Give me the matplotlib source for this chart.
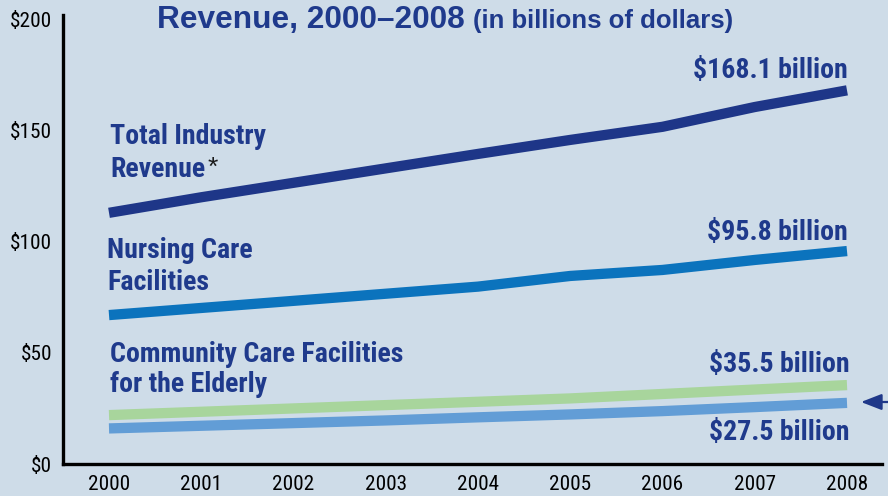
import matplotlib
matplotlib.use("Agg")
import matplotlib.pyplot as plt
from matplotlib import font_manager as fm

years = [2000, 2001, 2002, 2003, 2004, 2005, 2006, 2007, 2008]
total_industry = [113, 120, 126.5, 133, 139.5, 145.8, 151.7, 160.6, 168.1]
nursing_care = [67, 70.2, 73.4, 76.6, 79.8, 84.6, 87.3, 91.8, 95.8]
community_elderly = [22, 23.5, 25, 26.5, 28, 29.5, 31.5, 33.5, 35.5]
other_series = [16, 17.2, 18.4, 19.6, 21, 22.3, 23.8, 25.6, 27.5]
y_ticks = [0, 50, 100, 150, 200]
y_tick_labels = ["$0", "$50", "$100", "$150", "$200"]
end_labels = ["$168.1 billion", "$95.8 billion", "$35.5 billion", "$27.5 billion"]

BG = "#cedce8"
NAVY = "#1f3889"
TEXT = "#1f3a8c"
C_TOTAL = "#1e3688"
C_NURS = "#0b73bd"
C_GREEN = "#a8d59c"
C_LBLUE = "#629dd6"

PREF = ["Liberation Sans Narrow", "Roboto Condensed", "Arimo Narrow", "Fira Sans Condensed",
        "IBM Plex Sans Condensed", "Encode Sans Condensed"]


def pick(weight):
    for fam in PREF:
        for f in fm.fontManager.ttflist:
            if f.name == fam and f.weight == weight and f.style == 'normal':
                return fm.FontProperties(fname=f.fname)
    return None


fp_bold = pick(700)
fp_reg = pick(400)
if fp_reg is None:
    fp_reg = fm.FontProperties(family=['Liberation Sans', 'DejaVu Sans'])
if fp_bold is None:
    fp_bold = fm.FontProperties(family=['Liberation Sans', 'DejaVu Sans'], weight='bold')
plt.rcParams['font.family'] = ['Liberation Sans', 'DejaVu Sans']

fig = plt.figure(figsize=(8.88, 4.96), dpi=100, facecolor=BG)
ax = fig.add_axes([63/888, 1-464/496, (882-63)/888, 449/496])
ax.set_facecolor(BG)
renderer = fig.canvas.get_renderer()


def width_px(s, fp, size):
    t = fig.text(0, 0, s, fontproperties=fp, fontsize=size)
    w = t.get_window_extent(renderer).width
    t.remove()
    return w


def fit(s, fp, target, base=18):
    return base * target / width_px(s, fp, base)


lab_size = (fit("Total Industry", fp_bold, 157) + fit("$168.1 billion", fp_bold, 154)) / 2
tick_size = fit("2000", fp_reg, 42)
title_bold = fm.FontProperties(family=['Liberation Sans', 'DejaVu Sans'], weight='bold')
title_size = fit("Revenue, 2000\u20132008", title_bold, 308)
sub_size = fit("(in billions of dollars)", title_bold, 260)

lw = 7.4
ax.plot(years, other_series, color=C_LBLUE, lw=lw, solid_capstyle='butt', solid_joinstyle='round')
ax.plot(years, community_elderly, color=C_GREEN, lw=lw, solid_capstyle='butt', solid_joinstyle='round')
ax.plot(years, nursing_care, color=C_NURS, lw=lw, solid_capstyle='butt', solid_joinstyle='round')
ax.plot(years, total_industry, color=C_TOTAL, lw=lw, solid_capstyle='butt', solid_joinstyle='round')

ax.set_xlim(2000 - 46/92.25, 2008 + 35/92.25)
ax.set_ylim(0, 202)
ax.set_xticks(years)
ax.set_xticklabels([str(y) for y in years], color='black')
ax.set_yticks(y_ticks)
ax.set_yticklabels(y_tick_labels, color='black')
for lab in ax.get_xticklabels() + ax.get_yticklabels():
    lab.set_fontproperties(fp_reg)
    lab.set_fontsize(tick_size)
ax.tick_params(axis='x', length=0, pad=8)
ax.tick_params(axis='y', length=0, pad=8)
for s in ['top', 'right']:
    ax.spines[s].set_visible(False)
for s in ['left', 'bottom']:
    ax.spines[s].set_linewidth(2.4)
    ax.spines[s].set_color('black')

lab_kw = dict(fontproperties=fp_bold, fontsize=lab_size, color=TEXT, va='baseline')

ax.text(2000.01, 144.0, "Total Industry", ha='left', **lab_kw)
rev = ax.text(2000.01, 129.1, "Revenue", ha='left', **lab_kw)
ax.annotate("*", xy=(1, 0), xycoords=rev, xytext=(2, 2), textcoords='offset points',
            fontsize=19, color='#1a1a1a', ha='left', va='bottom')
ax.text(1999.98, 92.7, "Nursing Care", ha='left', **lab_kw)
ax.text(1999.98, 78.3, "Facilities", ha='left', **lab_kw)
ax.text(2000.01, 45.9, "Community Care Facilities", ha='left', **lab_kw)
ax.text(2000.01, 32.4, "for the Elderly", ha='left', **lab_kw)

ax.text(2008.01, 173.7, end_labels[0], ha='right', **lab_kw)
ax.text(2008.01, 100.8, end_labels[1], ha='right', **lab_kw)
ax.text(2008.03, 41.4, end_labels[2], ha='right', **lab_kw)
ax.text(2008.03, 10.8, end_labels[3], ha='right', **lab_kw)

fig.text(157/888, 1-28/496, "Revenue, 2000\u20132008", fontproperties=title_bold, fontsize=title_size,
         color=TEXT, ha='left', va='baseline')
fig.text(473/888, 1-28/496, "(in billions of dollars)", fontproperties=title_bold, fontsize=sub_size,
         color=TEXT, ha='left', va='baseline')

ax.annotate('', xy=(861, 496-402), xytext=(889, 496-402), xycoords='figure pixels',
            textcoords='figure pixels', annotation_clip=False,
            arrowprops=dict(arrowstyle='-|>,head_length=0.9,head_width=0.35', color=NAVY,
                            lw=1.6, mutation_scale=14, shrinkA=0, shrinkB=0))

fig.savefig("out.png", dpi=100, facecolor=BG)
